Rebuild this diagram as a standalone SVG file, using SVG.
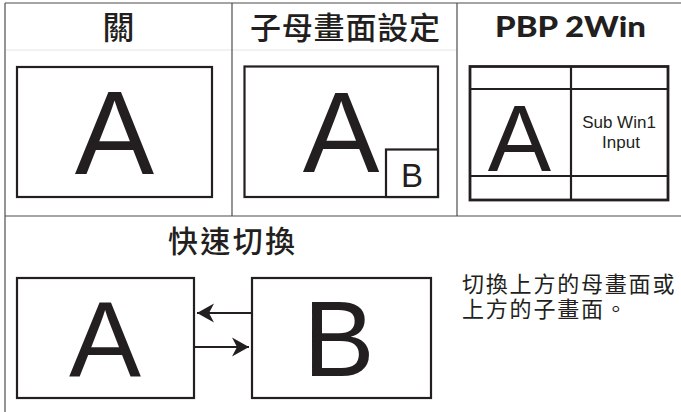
<svg xmlns="http://www.w3.org/2000/svg" width="681" height="412" viewBox="0 0 681 412">
<defs>
<style>
.grid{stroke:#4d4d4f;stroke-width:1.2;fill:none}
.faint{stroke:#e4e4e4;stroke-width:1;fill:none}
.box{fill:#fff;stroke:#231f20;stroke-width:2.2}
.thick{fill:none;stroke:#231f20;stroke-width:2.8}
.ln{stroke:#231f20;stroke-width:2.2}
.big{font-family:"Liberation Sans",Arial,sans-serif;fill:#231f20;text-anchor:middle}
.cjk{font-family:"Noto Sans CJK TC","Noto Sans CJK SC",sans-serif;fill:#231f20;font-weight:500}
.desc{font-family:"Noto Sans CJK TC","Noto Sans CJK SC",sans-serif;fill:#231f20;font-weight:400;font-size:22px;letter-spacing:1.8px}
.ttl{font-family:"Lato","Open Sans",sans-serif;font-weight:900;fill:#231f20;text-anchor:middle}
.small{font-family:"Liberation Sans",Arial,sans-serif;fill:#231f20;text-anchor:middle;font-size:17px}
.arr{stroke:#231f20;stroke-width:1.8;fill:none}
</style>
<marker id="ah" markerUnits="userSpaceOnUse" markerWidth="20" markerHeight="22" viewBox="-18 -11 20 22" refX="0" refY="0" orient="auto">
<path d="M0,0 L-17,-9.5 L-12,0 L-17,9.5 Z" fill="#231f20"/>
</marker>
</defs>
<rect width="681" height="412" fill="#fff"/>
<g id="table">
<line class="faint" x1="6" y1="50" x2="457" y2="50"/>
<line class="grid" x1="5" y1="3" x2="681" y2="3"/>
<line class="grid" x1="5" y1="3" x2="5" y2="412"/>
<line class="grid" x1="232" y1="3" x2="232" y2="216"/>
<line class="grid" x1="457" y1="3" x2="457" y2="216"/>
<line class="grid" x1="5" y1="216" x2="681" y2="216"/>
</g>
<g id="off">
<text class="cjk" x="118.5" y="39" font-size="32" text-anchor="middle">關</text>
<rect class="box" x="17" y="67" width="195" height="130"/>
<text class="big" x="114.5" y="174" font-size="119">A</text>
</g>
<g id="pip">
<text class="cjk" x="345" y="39" font-size="31" text-anchor="middle" textLength="190" lengthAdjust="spacing">子母畫面設定</text>
<rect class="box" x="244.5" y="66.5" width="193.5" height="130.5"/>
<text class="big" x="341" y="172" font-size="115">A</text>
<rect class="box" x="386" y="149.5" width="52" height="47.5"/>
<text class="big" x="412" y="187" font-size="33">B</text>
</g>
<g id="pbp">
<text class="ttl" x="570.5" y="37" font-size="28" textLength="151" lengthAdjust="spacingAndGlyphs">PBP 2Win</text>
<rect class="thick" x="470" y="66.5" width="198" height="133.5"/>
<line class="ln" x1="470" y1="89" x2="668" y2="89"/>
<line class="ln" x1="470" y1="176" x2="668" y2="176"/>
<line class="ln" x1="571" y1="66.5" x2="571" y2="200"/>
<text class="big" x="519.5" y="171" font-size="95">A</text>
<text class="small" x="619" y="128">Sub Win1</text>
<text class="small" x="621" y="148">Input</text>
</g>
<g id="swap">
<text class="cjk" x="231.5" y="252" font-size="30" text-anchor="middle" textLength="127" lengthAdjust="spacing">快速切換</text>
<text class="desc" x="462" y="292"><tspan x="462" y="292">切換上方的母畫面或</tspan><tspan x="462" y="317">上方的子畫面。</tspan></text>
</g>
<g id="nodeA">
<rect class="box" x="17" y="278" width="177" height="120"/>
<text class="big" x="105" y="377" font-size="108">A</text>
</g>
<g id="nodeB">
<rect class="box" x="252" y="278" width="179" height="120"/>
<text class="big" x="339" y="376" font-size="107">B</text>
</g>
<g id="connectors">
<line class="arr" x1="252" y1="313" x2="197" y2="313" marker-end="url(#ah)"/>
<line class="arr" x1="194" y1="347" x2="249" y2="347" marker-end="url(#ah)"/>
</g>
</svg>
